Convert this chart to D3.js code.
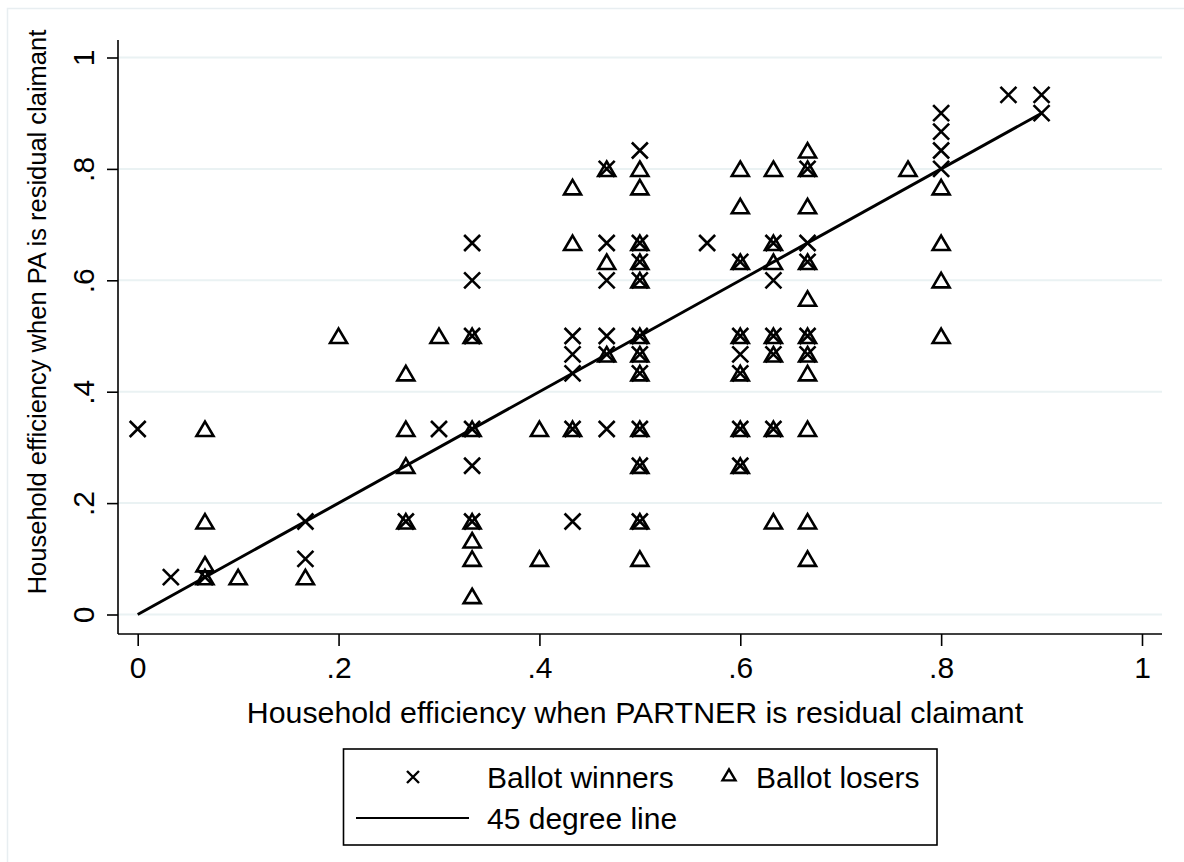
<!DOCTYPE html>
<html lang="en">
<head>
<meta charset="UTF-8">
<title>Household efficiency scatter</title>
<style>
body {
    margin: 0;
    background-color: #fff;
    font-family: "Liberation Sans", Arial, sans-serif;
}
svg {
    display: block;
}
</style>
</head>
<body>
<div id="plot"></div>
<script src="https://cdn.jsdelivr.net/npm/d3@7"></script>
<script>

const w = 1184,
      h = 862;

// data: [partner residual, PA residual]
const winners = [
    [0, .333], [.033, .067], [.067, .067], [.167, .167], [.167, .1],
    [.267, .167], [.3, .333],
    [.333, .667], [.333, .6], [.333, .5], [.333, .333], [.333, .267], [.333, .167],
    [.433, .5], [.433, .467], [.433, .433], [.433, .333], [.433, .167],
    [.467, .8], [.467, .667], [.467, .6], [.467, .5], [.467, .467], [.467, .333],
    [.5, .833], [.5, .667], [.5, .633], [.5, .6], [.5, .5], [.5, .467], [.5, .433],
    [.5, .333], [.5, .267], [.5, .167],
    [.567, .667],
    [.6, .633], [.6, .5], [.6, .467], [.6, .433], [.6, .333], [.6, .267],
    [.633, .667], [.633, .6], [.633, .5], [.633, .467], [.633, .333],
    [.667, .8], [.667, .667], [.667, .633], [.667, .5], [.667, .467],
    [.8, .9], [.8, .867], [.8, .833], [.8, .8],
    [.867, .933], [.9, .933], [.9, .9]
];

const losers = [
    [.067, .333], [.067, .167], [.067, .09], [.067, .067],
    [.1, .067], [.167, .067], [.2, .5],
    [.267, .433], [.267, .333], [.267, .267], [.267, .167],
    [.3, .5],
    [.333, .5], [.333, .333], [.333, .167], [.333, .133], [.333, .1], [.333, .033],
    [.4, .333], [.4, .1],
    [.433, .767], [.433, .667], [.433, .333],
    [.467, .8], [.467, .633], [.467, .467],
    [.5, .8], [.5, .767], [.5, .667], [.5, .633], [.5, .6], [.5, .5], [.5, .467],
    [.5, .433], [.5, .333], [.5, .267], [.5, .167], [.5, .1],
    [.6, .8], [.6, .733], [.6, .633], [.6, .5], [.6, .433], [.6, .333], [.6, .267],
    [.633, .8], [.633, .667], [.633, .633], [.633, .5], [.633, .467], [.633, .333], [.633, .167],
    [.667, .833], [.667, .8], [.667, .733], [.667, .633], [.667, .567], [.667, .5],
    [.667, .467], [.667, .433], [.667, .333], [.667, .167], [.667, .1],
    [.767, .8],
    [.8, .767], [.8, .667], [.8, .6], [.8, .5]
];

const line45 = [[0, 0], [.9, .9]];

const ticks = [0, .2, .4, .6, .8, 1];
const tickLabels = ["0", ".2", ".4", ".6", ".8", "1"];

const xTitle = "Household efficiency when PARTNER is residual claimant";
const yTitle = "Household efficiency when PA is residual claimant";
const legendLabels = ["Ballot winners", "Ballot losers", "45 degree line"];

// plot region
const pLeft = 118, pRight = 1162, pTop = 40, pBottom = 634;

const x = d3.scaleLinear().domain([0, 1]).range([137.7, 1142]);
const y = d3.scaleLinear().domain([0, 1]).range([614.5, 57.5]);

const svg = d3.select("#plot").append("svg")
    .attr("width", w)
    .attr("height", h);

// outer graph region frame
svg.append("rect")
    .attr("x", 7.5).attr("y", 8.5)
    .attr("width", w + 20).attr("height", h + 20)
    .attr("fill", "#fff")
    .attr("stroke", "#e8eef1")
    .attr("stroke-width", 1.5);

// gridlines
svg.selectAll(".grid")
    .data(ticks)
    .join("line")
    .attr("class", "grid")
    .attr("x1", pLeft).attr("x2", pRight)
    .attr("y1", d => y(d)).attr("y2", d => y(d))
    .attr("stroke", "#eaf2f3")
    .attr("stroke-width", 2);

// axes
const xAxis = d3.axisBottom(x)
    .tickValues(ticks)
    .tickFormat((d, i) => tickLabels[i])
    .tickSize(12)
    .tickSizeOuter(0)
    .tickPadding(11);

const yAxis = d3.axisLeft(y)
    .tickValues(ticks)
    .tickFormat((d, i) => tickLabels[i])
    .tickSize(11)
    .tickSizeOuter(0);

const gx = svg.append("g")
    .attr("transform", `translate(0,${pBottom})`)
    .call(xAxis);
gx.select(".domain").remove();
gx.selectAll("line").attr("stroke", "#000").attr("stroke-width", 1.6);
gx.selectAll("text")
    .attr("font-family", "Liberation Sans, Arial, sans-serif")
    .attr("font-size", 30)
    .attr("fill", "#000");

const gy = svg.append("g")
    .attr("transform", `translate(${pLeft},0)`)
    .call(yAxis);
gy.select(".domain").remove();
gy.selectAll("line").attr("stroke", "#000").attr("stroke-width", 1.6);
gy.selectAll("text")
    .attr("font-family", "Liberation Sans, Arial, sans-serif")
    .attr("font-size", 30)
    .attr("fill", "#000")
    .attr("text-anchor", "middle")
    .attr("x", 0)
    .attr("y", 0)
    .attr("dy", "0.35em")
    .attr("transform", "translate(-35,0) rotate(-90)");

svg.append("line")
    .attr("x1", pLeft).attr("x2", pRight)
    .attr("y1", pBottom).attr("y2", pBottom)
    .attr("stroke", "#000").attr("stroke-width", 1.6);
svg.append("line")
    .attr("x1", pLeft).attr("x2", pLeft)
    .attr("y1", pTop).attr("y2", pBottom)
    .attr("stroke", "#000").attr("stroke-width", 1.6);

// axis titles
svg.append("text")
    .attr("x", 635)
    .attr("y", 723)
    .attr("text-anchor", "middle")
    .attr("font-size", 30.3)
    .text(xTitle);

svg.append("text")
    .attr("transform", `translate(46,312) rotate(-90)`)
    .attr("text-anchor", "middle")
    .attr("font-size", 25.5)
    .text(yTitle);

// marker shapes
const cross = (s) => `M${-s},${-s}L${s},${s}M${-s},${s}L${s},${-s}`;
const tri = (s) => `M0,${-s * 0.87}L${s},${s * 0.83}L${-s},${s * 0.83}Z`;

// 45 degree line
const lineGen = d3.line().x(d => x(d[0])).y(d => y(d[1]));
svg.append("path")
    .datum(line45)
    .attr("d", lineGen)
    .attr("fill", "none")
    .attr("stroke", "#000")
    .attr("stroke-width", 3);

svg.selectAll(".win")
    .data(winners)
    .join("path")
    .attr("class", "win")
    .attr("transform", d => `translate(${x(d[0])},${y(d[1])})`)
    .attr("d", cross(8))
    .attr("fill", "none")
    .attr("stroke", "#000")
    .attr("stroke-width", 2.6);

svg.selectAll(".lose")
    .data(losers)
    .join("path")
    .attr("class", "lose")
    .attr("transform", d => `translate(${x(d[0])},${y(d[1])})`)
    .attr("d", tri(8.5))
    .attr("fill", "none")
    .attr("stroke", "#000")
    .attr("stroke-width", 2.6)
    .attr("stroke-linejoin", "miter");

// legend
const lg = svg.append("g");
lg.append("rect")
    .attr("x", 343.5).attr("y", 749)
    .attr("width", 593.5).attr("height", 96)
    .attr("fill", "#fff")
    .attr("stroke", "#000")
    .attr("stroke-width", 1.6);

lg.append("path")
    .attr("transform", "translate(413,777)")
    .attr("d", cross(6))
    .attr("fill", "none").attr("stroke", "#000").attr("stroke-width", 2.4);
lg.append("text").attr("x", 487).attr("y", 788).attr("font-size", 30).text(legendLabels[0]);

lg.append("path")
    .attr("transform", "translate(729,775)")
    .attr("d", tri(6.5))
    .attr("fill", "none").attr("stroke", "#000").attr("stroke-width", 2.4);
lg.append("text").attr("x", 756).attr("y", 788).attr("font-size", 30).text(legendLabels[1]);

lg.append("line")
    .attr("x1", 356).attr("x2", 469)
    .attr("y1", 818).attr("y2", 818)
    .attr("stroke", "#000").attr("stroke-width", 2);
lg.append("text").attr("x", 487).attr("y", 829).attr("font-size", 30).text(legendLabels[2]);

</script>
</body>
</html>
